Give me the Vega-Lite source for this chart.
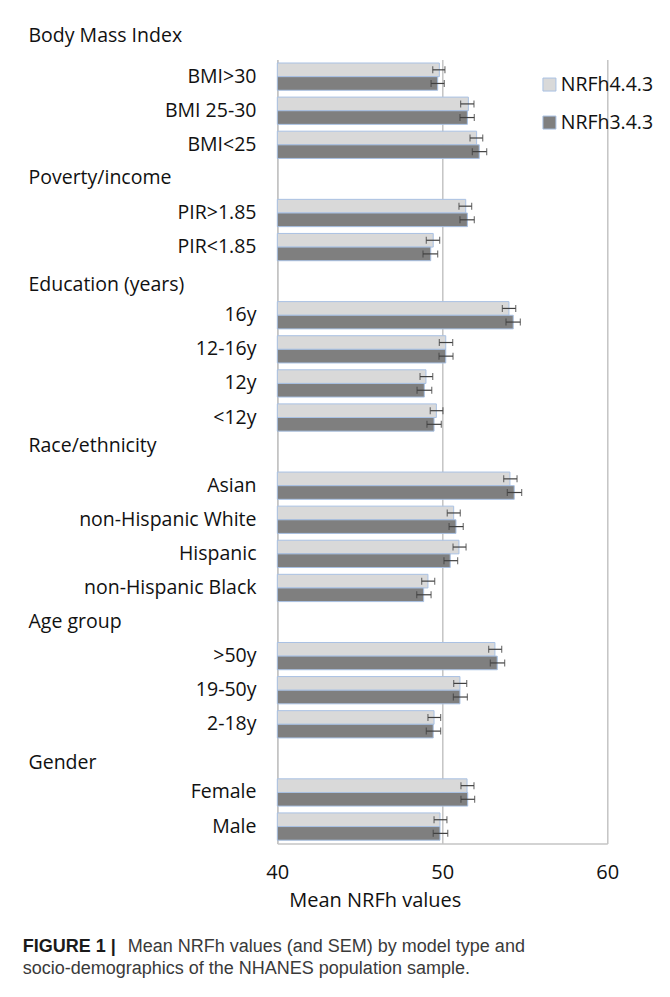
{
  "$schema": "https://vega.github.io/schema/vega-lite/v6.json",
  "autosize": {"type": "none"},
  "padding": {"left": 277.3, "top": 59.6, "right": 62.7, "bottom": 153.4},
  "width": 330,
  "height": 784,
  "background": "white",
  "title": {
    "text": "FIGURE 1 |",
    "subtitle": ["\u2060\u00a0\u00a0\u00a0\u00a0\u00a0\u00a0\u00a0\u00a0\u00a0\u00a0\u00a0\u00a0\u00a0\u00a0\u00a0\u00a0\u00a0\u00a0\u00a0\u00a0\u00a0Mean NRFh values (and SEM) by model type and", "socio-demographics of the NHANES population sample."],
    "orient": "bottom",
    "anchor": "start",
    "frame": "bounds",
    "offset": 28,
    "dx": -5.3,
    "font": "Liberation Sans",
    "fontSize": 18,
    "fontWeight": "bold",
    "color": "#1a1a1a",
    "baseline": "top",
    "subtitleFont": "Liberation Sans",
    "subtitleFontSize": 18,
    "subtitleFontWeight": "normal",
    "subtitleColor": "#3a3a3a",
    "subtitleLineHeight": 22,
    "subtitlePadding": -18
  },
  "data": {
    "values": [
      {"group": "BMI>30", "model": "NRFh4.4.3", "mean": 49.82, "lo": 49.42, "hi": 50.16},
      {"group": "BMI>30", "model": "NRFh3.4.3", "mean": 49.72, "lo": 49.32, "hi": 50.12},
      {"group": "BMI 25-30", "model": "NRFh4.4.3", "mean": 51.58, "lo": 51.11, "hi": 51.92},
      {"group": "BMI 25-30", "model": "NRFh3.4.3", "mean": 51.52, "lo": 51.07, "hi": 51.94},
      {"group": "BMI<25", "model": "NRFh4.4.3", "mean": 52.08, "lo": 51.68, "hi": 52.45},
      {"group": "BMI<25", "model": "NRFh3.4.3", "mean": 52.24, "lo": 51.82, "hi": 52.69},
      {"group": "PIR>1.85", "model": "NRFh4.4.3", "mean": 51.42, "lo": 51.01, "hi": 51.78},
      {"group": "PIR>1.85", "model": "NRFh3.4.3", "mean": 51.52, "lo": 51.07, "hi": 51.94},
      {"group": "PIR<1.85", "model": "NRFh4.4.3", "mean": 49.45, "lo": 49.03, "hi": 49.84},
      {"group": "PIR<1.85", "model": "NRFh3.4.3", "mean": 49.30, "lo": 48.83, "hi": 49.72},
      {"group": "16y", "model": "NRFh4.4.3", "mean": 54.04, "lo": 53.64, "hi": 54.45},
      {"group": "16y", "model": "NRFh3.4.3", "mean": 54.30, "lo": 53.86, "hi": 54.73},
      {"group": "12-16y", "model": "NRFh4.4.3", "mean": 50.21, "lo": 49.82, "hi": 50.63},
      {"group": "12-16y", "model": "NRFh3.4.3", "mean": 50.21, "lo": 49.80, "hi": 50.65},
      {"group": "12y", "model": "NRFh4.4.3", "mean": 49.01, "lo": 48.65, "hi": 49.42},
      {"group": "12y", "model": "NRFh3.4.3", "mean": 48.91, "lo": 48.47, "hi": 49.36},
      {"group": "<12y", "model": "NRFh4.4.3", "mean": 49.64, "lo": 49.27, "hi": 50.04},
      {"group": "<12y", "model": "NRFh3.4.3", "mean": 49.50, "lo": 49.07, "hi": 49.94},
      {"group": "Asian", "model": "NRFh4.4.3", "mean": 54.10, "lo": 53.72, "hi": 54.53},
      {"group": "Asian", "model": "NRFh3.4.3", "mean": 54.36, "lo": 53.94, "hi": 54.81},
      {"group": "non-Hispanic White", "model": "NRFh4.4.3", "mean": 50.69, "lo": 50.30, "hi": 51.09},
      {"group": "non-Hispanic White", "model": "NRFh3.4.3", "mean": 50.83, "lo": 50.41, "hi": 51.27},
      {"group": "Hispanic", "model": "NRFh4.4.3", "mean": 51.01, "lo": 50.65, "hi": 51.44},
      {"group": "Hispanic", "model": "NRFh3.4.3", "mean": 50.48, "lo": 50.10, "hi": 50.93},
      {"group": "non-Hispanic Black", "model": "NRFh4.4.3", "mean": 49.13, "lo": 48.75, "hi": 49.54},
      {"group": "non-Hispanic Black", "model": "NRFh3.4.3", "mean": 48.87, "lo": 48.45, "hi": 49.32},
      {"group": ">50y", "model": "NRFh4.4.3", "mean": 53.19, "lo": 52.81, "hi": 53.60},
      {"group": ">50y", "model": "NRFh3.4.3", "mean": 53.33, "lo": 52.91, "hi": 53.78},
      {"group": "19-50y", "model": "NRFh4.4.3", "mean": 51.07, "lo": 50.69, "hi": 51.48},
      {"group": "19-50y", "model": "NRFh3.4.3", "mean": 51.07, "lo": 50.67, "hi": 51.52},
      {"group": "2-18y", "model": "NRFh4.4.3", "mean": 49.50, "lo": 49.13, "hi": 49.90},
      {"group": "2-18y", "model": "NRFh3.4.3", "mean": 49.45, "lo": 49.03, "hi": 49.90},
      {"group": "Female", "model": "NRFh4.4.3", "mean": 51.50, "lo": 51.13, "hi": 51.92},
      {"group": "Female", "model": "NRFh3.4.3", "mean": 51.54, "lo": 51.13, "hi": 51.96},
      {"group": "Male", "model": "NRFh4.4.3", "mean": 49.86, "lo": 49.50, "hi": 50.28},
      {"group": "Male", "model": "NRFh3.4.3", "mean": 49.86, "lo": 49.45, "hi": 50.33}
    ]
  },
  "encoding": {
    "y": {
      "field": "group",
      "type": "nominal",
      "sort": null,
      "scale": {
        "domain": ["BMI>30", "BMI 25-30", "BMI<25", "Poverty/income", "PIR>1.85", "PIR<1.85", "Education (years)", "16y", "12-16y", "12y", "<12y", "Race/ethnicity", "Asian", "non-Hispanic White", "Hispanic", "non-Hispanic Black", "Age group", ">50y", "19-50y", "2-18y", "Gender", "Female", "Male"],
        "paddingInner": 0.2,
        "paddingOuter": 0.1
      },
      "axis": {
        "title": "Body Mass Index",
        "titleAngle": 0,
        "titleAlign": "left",
        "titleBaseline": "middle",
        "titleX": -249.3,
        "titleY": -24.6,
        "titleFont": "Open Sans",
        "titleFontSize": 19.5,
        "titleFontWeight": "normal",
        "titleColor": "#111111",
        "domainColor": "#c4c4c4",
        "domainWidth": 1.5,
        "ticks": false,
        "tickSize": 0,
        "grid": false,
        "labelFont": "Open Sans",
        "labelFontSize": 19.5,
        "labelColor": "#111111",
        "labelBaseline": "middle",
        "labelLimit": 400,
        "labelAlign": {
          "condition": {"test": "indexof(['Poverty/income','Education (years)','Race/ethnicity','Age group','Gender'], datum.value) >= 0", "value": "left"},
          "value": "right"
        },
        "labelPadding": {
          "condition": {"test": "indexof(['Poverty/income','Education (years)','Race/ethnicity','Age group','Gender'], datum.value) >= 0", "value": 249.3},
          "value": 21.3
        },
        "labelOffset": {
          "condition": [
            {"test": "datum.value === 'Education (years)'", "value": 4},
            {"test": "datum.value === 'Race/ethnicity'", "value": -6},
            {"test": "datum.value === 'Gender'", "value": 5},
            {"test": "datum.value === 'Poverty/income'", "value": -1}
          ],
          "value": 0
        }
      }
    },
    "yOffset": {
      "field": "model",
      "type": "nominal",
      "sort": ["NRFh4.4.3", "NRFh3.4.3"],
      "scale": {"domain": ["NRFh4.4.3", "NRFh3.4.3"], "paddingInner": 0, "paddingOuter": 0}
    }
  },
  "layer": [
    {
      "mark": {"type": "bar", "stroke": "#a9c1e3", "strokeWidth": 1},
      "encoding": {
        "x": {
          "field": "mean",
          "type": "quantitative",
          "scale": {"domain": [40, 60], "nice": false, "zero": false},
          "axis": {
            "title": "Mean NRFh values",
            "values": [40, 50, 60],
            "grid": true,
            "gridColor": "#c4c4c4",
            "gridWidth": 1.5,
            "domainColor": "#c4c4c4",
            "domainWidth": 1.5,
            "ticks": false,
            "tickSize": 0,
            "labelFlush": false,
            "labelFont": "Open Sans",
            "labelFontSize": 20,
            "labelColor": "#111111",
            "labelBaseline": "middle",
            "labelPadding": 28.4,
            "titleFont": "Open Sans",
            "titleFontSize": 20,
            "titleFontWeight": "normal",
            "titleColor": "#111111",
            "titleX": 97.5,
            "titleY": 56.4,
            "titleAlign": "center",
            "titleBaseline": "middle"
          }
        },
        "x2": {"datum": 40},
        "color": {
          "field": "model",
          "type": "nominal",
          "scale": {"domain": ["NRFh4.4.3", "NRFh3.4.3"], "range": ["#d9d9d9", "#7f7f7f"]},
          "legend": {
            "title": null,
            "orient": "none",
            "legendX": 262.4,
            "legendY": 15.2,
            "padding": 0,
            "symbolType": "square",
            "symbolSize": 169,
            "symbolStrokeColor": "#a9c1e3",
            "symbolStrokeWidth": 1,
            "labelFont": "Open Sans",
            "labelFontSize": 19.5,
            "labelColor": "#111111",
            "labelOffset": 1.5,
            "rowPadding": 17
          }
        }
      }
    },
    {
      "mark": {"type": "rule", "color": "#404040", "strokeWidth": 1.2},
      "encoding": {
        "x": {"field": "lo", "type": "quantitative"},
        "x2": {"field": "hi"}
      }
    },
    {
      "mark": {"type": "tick", "color": "#404040", "thickness": 1.2, "size": 7, "orient": "vertical"},
      "encoding": {
        "x": {"field": "lo", "type": "quantitative"}
      }
    },
    {
      "mark": {"type": "tick", "color": "#404040", "thickness": 1.2, "size": 7, "orient": "vertical"},
      "encoding": {
        "x": {"field": "hi", "type": "quantitative"}
      }
    }
  ],
  "config": {
    "view": {"stroke": null}
  }
}
